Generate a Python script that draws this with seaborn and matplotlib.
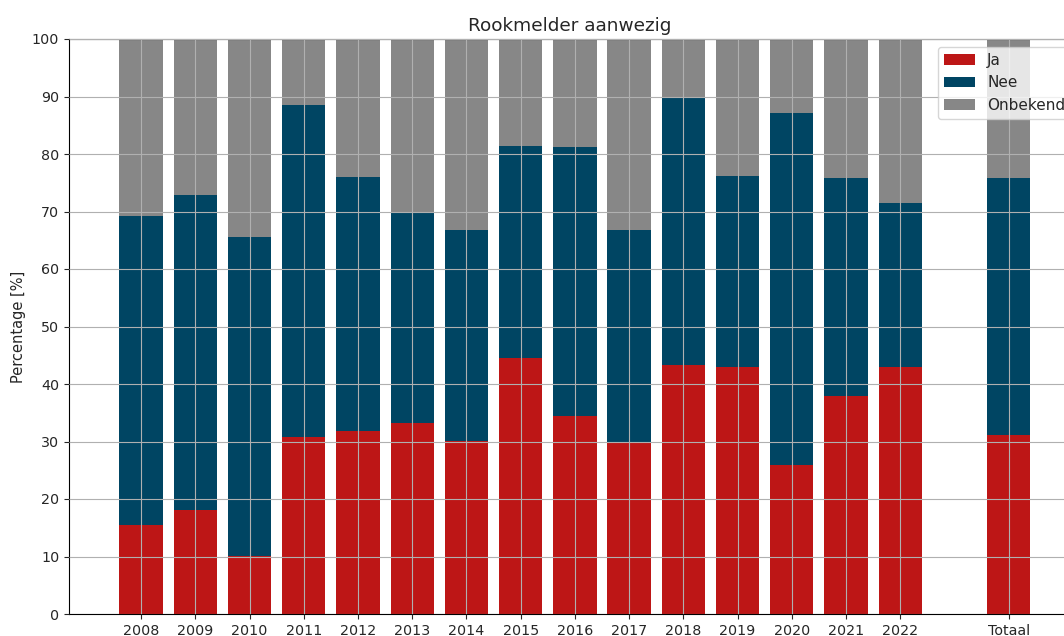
"""Stacked bar chart: rookmelder aanwezig per jaar."""
import matplotlib
matplotlib.use("Agg")
import matplotlib.pyplot as plt
import numpy as np
import pandas as pd
import seaborn as sns

labels = ["2008", "2009", "2010", "2011", "2012", "2013", "2014", "2015",
          "2016", "2017", "2018", "2019", "2020", "2021", "2022", "Totaal"]
ja = [15.5, 18.1, 10.1, 30.8, 31.8, 33.2, 30.1, 44.5,
      34.4, 29.9, 43.3, 43.0, 25.9, 37.9, 43.0, 31.1]
nee = [53.7, 54.8, 55.5, 57.7, 44.2, 36.7, 36.7, 36.9,
       46.8, 36.9, 46.6, 33.2, 61.2, 37.9, 28.5, 44.7]
onbekend = [100 - a - b for a, b in zip(ja, nee)]

colors = {"Ja": "#bd1616", "Nee": "#004563", "Onbekend": "#878787"}

# one empty slot between 2022 and Totaal
pos = list(range(len(labels) - 1)) + [len(labels)]
df = pd.DataFrame({"pos": pos, "label": labels, "Ja": ja, "Nee": nee, "Onbekend": onbekend})
df["top_nee"] = df["Ja"] + df["Nee"]
df["top_onb"] = df["top_nee"] + df["Onbekend"]

sns.set_style("ticks")
plt.rcParams["font.family"] = ["DejaVu Sans"]

fig = plt.figure(figsize=(10.64, 6.36), dpi=100)
ax = fig.add_axes([69 / 1064, 22 / 636, 1002 / 1064, 575 / 636])

bar_kw = dict(native_scale=True, width=0.8, saturation=1, linewidth=0, edgecolor="none", ax=ax)
sns.barplot(data=df, x="pos", y="top_onb", color=colors["Onbekend"], label="Onbekend", **bar_kw)
sns.barplot(data=df, x="pos", y="top_nee", color=colors["Nee"], label="Nee", **bar_kw)
sns.barplot(data=df, x="pos", y="Ja", color=colors["Ja"], label="Ja", **bar_kw)

ax.set_xticks(df["pos"])
ax.set_xticklabels(df["label"])
ax.set_yticks(np.arange(0, 101, 10))
ax.tick_params(labelsize=10.3)
ax.set_ylim(0, 100)
ax.set_xlim(-1.33, 17.15)
ax.set_xlabel("")
ax.set_ylabel("Percentage [%]", fontsize=10.5)
ax.set_title("Rookmelder aanwezig", fontsize=13.3)
ax.grid(True, color="#b0b0b0", linewidth=0.8)
ax.set_axisbelow(False)
for side in ["top", "right", "left", "bottom"]:
    ax.spines[side].set_visible(True)
    ax.spines[side].set_color("black")

handles, names = ax.get_legend_handles_labels()
order = [names.index(n) for n in ["Ja", "Nee", "Onbekend"]]
ax.legend([handles[i] for i in order], [names[i] for i in order],
          loc="upper right", bbox_to_anchor=(1.008, 1.0), fontsize=11)

fig.savefig("out.png", dpi=100)
plt.close(fig)
